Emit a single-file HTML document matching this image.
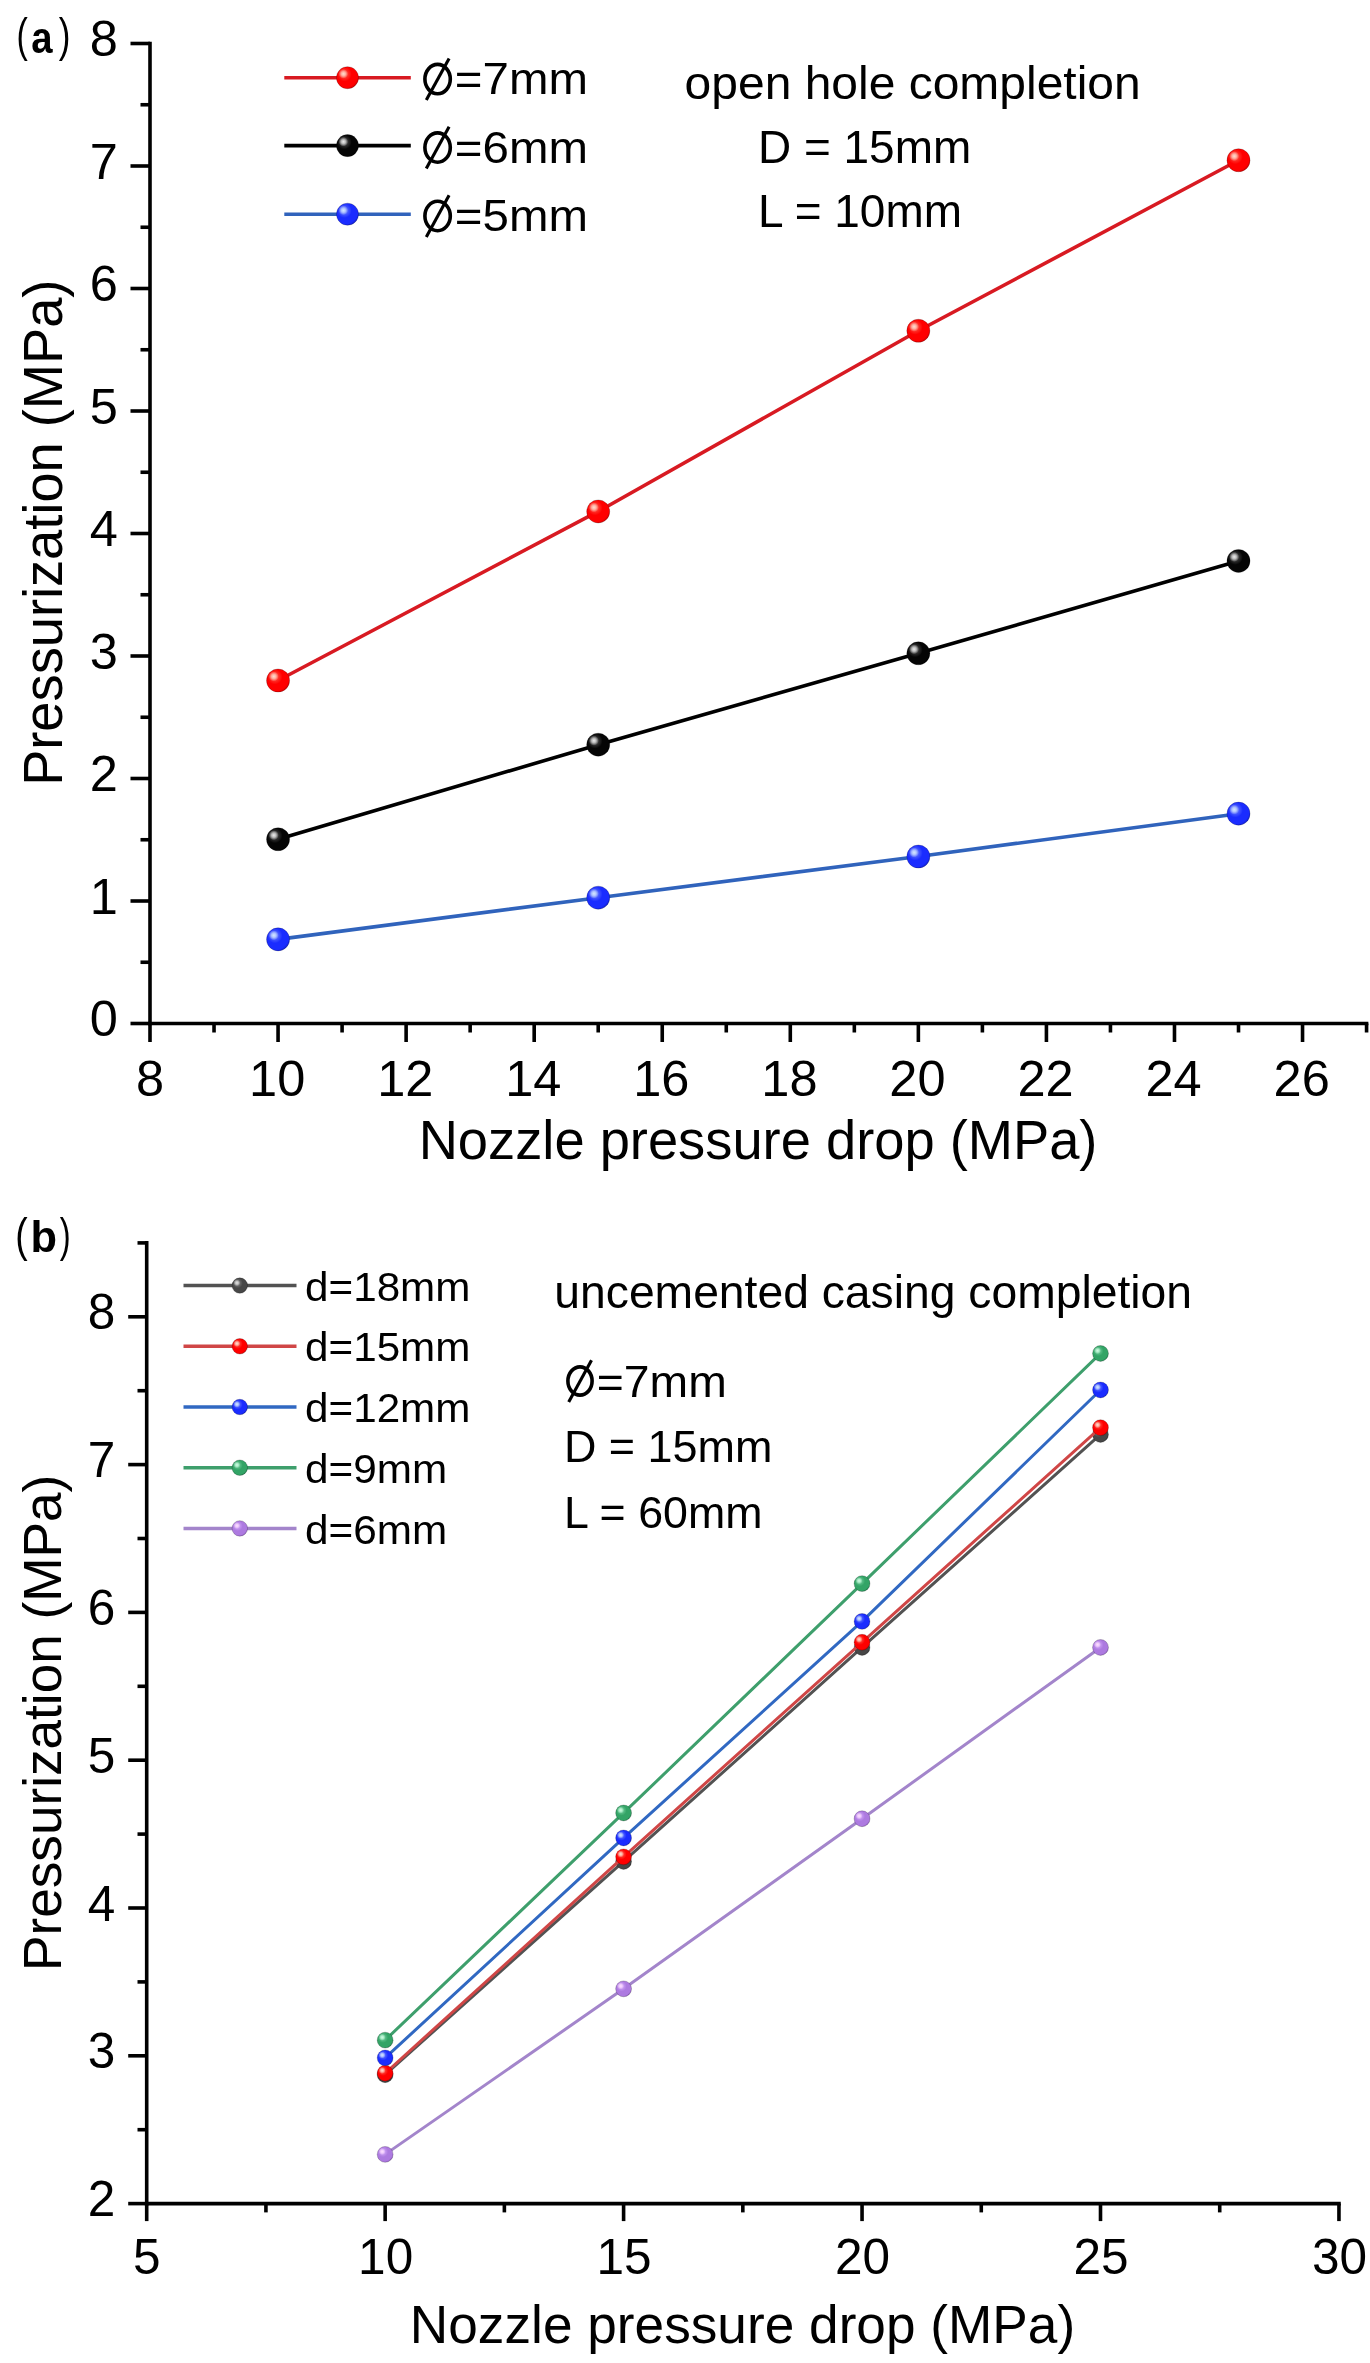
<!DOCTYPE html>
<html><head><meta charset="utf-8"><title>Pressurization vs nozzle pressure drop</title>
<style>
html,body{margin:0;padding:0;background:#fff;}
body{width:1370px;height:2363px;overflow:hidden;}
svg{display:block;will-change:transform;font-family:"Liberation Sans", sans-serif;}
</style></head>
<body>
<svg width="1370" height="2363" viewBox="0 0 1370 2363">
<defs><radialGradient id="gRed" cx="0.36" cy="0.34" r="0.78"><stop offset="0" stop-color="#ff6050"/><stop offset="0.42" stop-color="#ff0000"/><stop offset="0.78" stop-color="#ff0000"/><stop offset="1" stop-color="#b80000"/></radialGradient><radialGradient id="gRedH"><stop offset="0" stop-color="#ffe4d4" stop-opacity="0.95"/><stop offset="0.45" stop-color="#ffe4d4" stop-opacity="0.6649999999999999"/><stop offset="1" stop-color="#ffe4d4" stop-opacity="0"/></radialGradient><radialGradient id="gBlk" cx="0.36" cy="0.34" r="0.78"><stop offset="0" stop-color="#5a5a5a"/><stop offset="0.42" stop-color="#050505"/><stop offset="0.78" stop-color="#050505"/><stop offset="1" stop-color="#000000"/></radialGradient><radialGradient id="gBlkH"><stop offset="0" stop-color="#f4f4f4" stop-opacity="0.95"/><stop offset="0.45" stop-color="#f4f4f4" stop-opacity="0.6649999999999999"/><stop offset="1" stop-color="#f4f4f4" stop-opacity="0"/></radialGradient><radialGradient id="gBlu" cx="0.36" cy="0.34" r="0.78"><stop offset="0" stop-color="#7488ff"/><stop offset="0.42" stop-color="#1a2cff"/><stop offset="0.78" stop-color="#1a2cff"/><stop offset="1" stop-color="#0c18b0"/></radialGradient><radialGradient id="gBluH"><stop offset="0" stop-color="#d8ecff" stop-opacity="0.95"/><stop offset="0.45" stop-color="#d8ecff" stop-opacity="0.6649999999999999"/><stop offset="1" stop-color="#d8ecff" stop-opacity="0"/></radialGradient><radialGradient id="gGry" cx="0.36" cy="0.34" r="0.78"><stop offset="0" stop-color="#8a8a8a"/><stop offset="0.42" stop-color="#474747"/><stop offset="0.78" stop-color="#474747"/><stop offset="1" stop-color="#2a2a2a"/></radialGradient><radialGradient id="gGryH"><stop offset="0" stop-color="#e8e8e8" stop-opacity="0.95"/><stop offset="0.45" stop-color="#e8e8e8" stop-opacity="0.6649999999999999"/><stop offset="1" stop-color="#e8e8e8" stop-opacity="0"/></radialGradient><radialGradient id="gGrn" cx="0.36" cy="0.34" r="0.78"><stop offset="0" stop-color="#7cd4a4"/><stop offset="0.42" stop-color="#33a466"/><stop offset="0.78" stop-color="#33a466"/><stop offset="1" stop-color="#1d7044"/></radialGradient><radialGradient id="gGrnH"><stop offset="0" stop-color="#d0ffe4" stop-opacity="0.95"/><stop offset="0.45" stop-color="#d0ffe4" stop-opacity="0.6649999999999999"/><stop offset="1" stop-color="#d0ffe4" stop-opacity="0"/></radialGradient><radialGradient id="gPur" cx="0.36" cy="0.34" r="0.78"><stop offset="0" stop-color="#dab0ff"/><stop offset="0.42" stop-color="#ad7ae0"/><stop offset="0.78" stop-color="#ad7ae0"/><stop offset="1" stop-color="#8050b0"/></radialGradient><radialGradient id="gPurH"><stop offset="0" stop-color="#ffe0ff" stop-opacity="0.95"/><stop offset="0.45" stop-color="#ffe0ff" stop-opacity="0.6649999999999999"/><stop offset="1" stop-color="#ffe0ff" stop-opacity="0"/></radialGradient></defs>
<rect width="1370" height="2363" fill="#fff"/>
<g fill="#000">
<line x1="150" y1="41.7" x2="150" y2="1025.3" stroke="#000" stroke-width="3.6" stroke-linecap="butt"/>
<line x1="148.2" y1="1023.5" x2="1368.37" y2="1023.5" stroke="#000" stroke-width="3.6" stroke-linecap="butt"/>
<line x1="130.5" y1="1023.5" x2="150" y2="1023.5" stroke="#000" stroke-width="3.6" stroke-linecap="butt"/>
<line x1="140.5" y1="962.25" x2="150" y2="962.25" stroke="#000" stroke-width="3.6" stroke-linecap="butt"/>
<line x1="130.5" y1="901" x2="150" y2="901" stroke="#000" stroke-width="3.6" stroke-linecap="butt"/>
<line x1="140.5" y1="839.75" x2="150" y2="839.75" stroke="#000" stroke-width="3.6" stroke-linecap="butt"/>
<line x1="130.5" y1="778.5" x2="150" y2="778.5" stroke="#000" stroke-width="3.6" stroke-linecap="butt"/>
<line x1="140.5" y1="717.25" x2="150" y2="717.25" stroke="#000" stroke-width="3.6" stroke-linecap="butt"/>
<line x1="130.5" y1="656" x2="150" y2="656" stroke="#000" stroke-width="3.6" stroke-linecap="butt"/>
<line x1="140.5" y1="594.75" x2="150" y2="594.75" stroke="#000" stroke-width="3.6" stroke-linecap="butt"/>
<line x1="130.5" y1="533.5" x2="150" y2="533.5" stroke="#000" stroke-width="3.6" stroke-linecap="butt"/>
<line x1="140.5" y1="472.25" x2="150" y2="472.25" stroke="#000" stroke-width="3.6" stroke-linecap="butt"/>
<line x1="130.5" y1="411" x2="150" y2="411" stroke="#000" stroke-width="3.6" stroke-linecap="butt"/>
<line x1="140.5" y1="349.75" x2="150" y2="349.75" stroke="#000" stroke-width="3.6" stroke-linecap="butt"/>
<line x1="130.5" y1="288.5" x2="150" y2="288.5" stroke="#000" stroke-width="3.6" stroke-linecap="butt"/>
<line x1="140.5" y1="227.25" x2="150" y2="227.25" stroke="#000" stroke-width="3.6" stroke-linecap="butt"/>
<line x1="130.5" y1="166" x2="150" y2="166" stroke="#000" stroke-width="3.6" stroke-linecap="butt"/>
<line x1="140.5" y1="104.75" x2="150" y2="104.75" stroke="#000" stroke-width="3.6" stroke-linecap="butt"/>
<line x1="130.5" y1="43.5" x2="150" y2="43.5" stroke="#000" stroke-width="3.6" stroke-linecap="butt"/>
<line x1="150" y1="1023.5" x2="150" y2="1042" stroke="#000" stroke-width="3.6" stroke-linecap="butt"/>
<line x1="214.03" y1="1023.5" x2="214.03" y2="1032.5" stroke="#000" stroke-width="3.6" stroke-linecap="butt"/>
<line x1="278.06" y1="1023.5" x2="278.06" y2="1042" stroke="#000" stroke-width="3.6" stroke-linecap="butt"/>
<line x1="342.09" y1="1023.5" x2="342.09" y2="1032.5" stroke="#000" stroke-width="3.6" stroke-linecap="butt"/>
<line x1="406.12" y1="1023.5" x2="406.12" y2="1042" stroke="#000" stroke-width="3.6" stroke-linecap="butt"/>
<line x1="470.15" y1="1023.5" x2="470.15" y2="1032.5" stroke="#000" stroke-width="3.6" stroke-linecap="butt"/>
<line x1="534.18" y1="1023.5" x2="534.18" y2="1042" stroke="#000" stroke-width="3.6" stroke-linecap="butt"/>
<line x1="598.21" y1="1023.5" x2="598.21" y2="1032.5" stroke="#000" stroke-width="3.6" stroke-linecap="butt"/>
<line x1="662.24" y1="1023.5" x2="662.24" y2="1042" stroke="#000" stroke-width="3.6" stroke-linecap="butt"/>
<line x1="726.27" y1="1023.5" x2="726.27" y2="1032.5" stroke="#000" stroke-width="3.6" stroke-linecap="butt"/>
<line x1="790.3" y1="1023.5" x2="790.3" y2="1042" stroke="#000" stroke-width="3.6" stroke-linecap="butt"/>
<line x1="854.33" y1="1023.5" x2="854.33" y2="1032.5" stroke="#000" stroke-width="3.6" stroke-linecap="butt"/>
<line x1="918.36" y1="1023.5" x2="918.36" y2="1042" stroke="#000" stroke-width="3.6" stroke-linecap="butt"/>
<line x1="982.39" y1="1023.5" x2="982.39" y2="1032.5" stroke="#000" stroke-width="3.6" stroke-linecap="butt"/>
<line x1="1046.42" y1="1023.5" x2="1046.42" y2="1042" stroke="#000" stroke-width="3.6" stroke-linecap="butt"/>
<line x1="1110.45" y1="1023.5" x2="1110.45" y2="1032.5" stroke="#000" stroke-width="3.6" stroke-linecap="butt"/>
<line x1="1174.48" y1="1023.5" x2="1174.48" y2="1042" stroke="#000" stroke-width="3.6" stroke-linecap="butt"/>
<line x1="1238.51" y1="1023.5" x2="1238.51" y2="1032.5" stroke="#000" stroke-width="3.6" stroke-linecap="butt"/>
<line x1="1302.54" y1="1023.5" x2="1302.54" y2="1042" stroke="#000" stroke-width="3.6" stroke-linecap="butt"/>
<line x1="1366.57" y1="1023.5" x2="1366.57" y2="1032.5" stroke="#000" stroke-width="3.6" stroke-linecap="butt"/>
<g font-size="50.5" text-anchor="end">
<text x="117.8" y="1036.2">0</text>
<text x="117.8" y="913.7">1</text>
<text x="117.8" y="791.2">2</text>
<text x="117.8" y="668.7">3</text>
<text x="117.8" y="546.2">4</text>
<text x="117.8" y="423.7">5</text>
<text x="117.8" y="301.2">6</text>
<text x="117.8" y="178.7">7</text>
<text x="117.8" y="56.2">8</text>
</g>
<g font-size="50.5" text-anchor="middle">
<text x="150" y="1095.7">8</text>
<text x="277.16" y="1095.7">10</text>
<text x="405.22" y="1095.7">12</text>
<text x="533.28" y="1095.7">14</text>
<text x="661.34" y="1095.7">16</text>
<text x="789.4" y="1095.7">18</text>
<text x="917.46" y="1095.7">20</text>
<text x="1045.52" y="1095.7">22</text>
<text x="1173.58" y="1095.7">24</text>
<text x="1301.64" y="1095.7">26</text>
</g>
<text x="418.65" y="1158.7" font-size="55" textLength="678.82" lengthAdjust="spacingAndGlyphs">Nozzle pressure drop (MPa)</text>
<text transform="translate(62.4 785.85) rotate(-90)" x="0" y="0" font-size="54.6" textLength="506.21" lengthAdjust="spacingAndGlyphs">Pressurization (MPa)</text>
<polyline points="278.06,680.5 598.21,511.45 918.36,330.76 1238.51,160.24" fill="none" stroke="#d81a22" stroke-width="3.6" stroke-linejoin="round" stroke-linecap="round"/>
<polyline points="278.06,839.26 598.21,744.69 918.36,653.31 1238.51,560.94" fill="none" stroke="#000000" stroke-width="3.6" stroke-linejoin="round" stroke-linecap="round"/>
<polyline points="278.06,939.34 598.21,897.69 918.36,856.53 1238.51,813.66" fill="none" stroke="#3063bc" stroke-width="3.6" stroke-linejoin="round" stroke-linecap="round"/>
<circle cx="278.06" cy="680.5" r="11.55" fill="url(#gRed)" stroke="#000" stroke-opacity="0.22" stroke-width="0.9"/>
<circle cx="273.74" cy="676.42" r="5.04" fill="url(#gRedH)"/>
<circle cx="598.21" cy="511.45" r="11.55" fill="url(#gRed)" stroke="#000" stroke-opacity="0.22" stroke-width="0.9"/>
<circle cx="593.89" cy="507.37" r="5.04" fill="url(#gRedH)"/>
<circle cx="918.36" cy="330.76" r="11.55" fill="url(#gRed)" stroke="#000" stroke-opacity="0.22" stroke-width="0.9"/>
<circle cx="914.04" cy="326.68" r="5.04" fill="url(#gRedH)"/>
<circle cx="1238.51" cy="160.24" r="11.55" fill="url(#gRed)" stroke="#000" stroke-opacity="0.22" stroke-width="0.9"/>
<circle cx="1234.19" cy="156.16" r="5.04" fill="url(#gRedH)"/>
<circle cx="278.06" cy="839.26" r="11.55" fill="url(#gBlk)" stroke="#000" stroke-opacity="0.22" stroke-width="0.9"/>
<circle cx="273.74" cy="835.18" r="5.04" fill="url(#gBlkH)"/>
<circle cx="598.21" cy="744.69" r="11.55" fill="url(#gBlk)" stroke="#000" stroke-opacity="0.22" stroke-width="0.9"/>
<circle cx="593.89" cy="740.61" r="5.04" fill="url(#gBlkH)"/>
<circle cx="918.36" cy="653.31" r="11.55" fill="url(#gBlk)" stroke="#000" stroke-opacity="0.22" stroke-width="0.9"/>
<circle cx="914.04" cy="649.23" r="5.04" fill="url(#gBlkH)"/>
<circle cx="1238.51" cy="560.94" r="11.55" fill="url(#gBlk)" stroke="#000" stroke-opacity="0.22" stroke-width="0.9"/>
<circle cx="1234.19" cy="556.86" r="5.04" fill="url(#gBlkH)"/>
<circle cx="278.06" cy="939.34" r="11.55" fill="url(#gBlu)" stroke="#000" stroke-opacity="0.22" stroke-width="0.9"/>
<circle cx="273.74" cy="935.26" r="5.04" fill="url(#gBluH)"/>
<circle cx="598.21" cy="897.69" r="11.55" fill="url(#gBlu)" stroke="#000" stroke-opacity="0.22" stroke-width="0.9"/>
<circle cx="593.89" cy="893.61" r="5.04" fill="url(#gBluH)"/>
<circle cx="918.36" cy="856.53" r="11.55" fill="url(#gBlu)" stroke="#000" stroke-opacity="0.22" stroke-width="0.9"/>
<circle cx="914.04" cy="852.45" r="5.04" fill="url(#gBluH)"/>
<circle cx="1238.51" cy="813.66" r="11.55" fill="url(#gBlu)" stroke="#000" stroke-opacity="0.22" stroke-width="0.9"/>
<circle cx="1234.19" cy="809.58" r="5.04" fill="url(#gBluH)"/>
<line x1="284.3" y1="77.7" x2="410.8" y2="77.7" stroke="#d81a22" stroke-width="3.6" stroke-linecap="butt"/>
<circle cx="347.5" cy="77.7" r="11.05" fill="url(#gRed)" stroke="#000" stroke-opacity="0.22" stroke-width="0.9"/>
<circle cx="343.36" cy="73.79" r="4.83" fill="url(#gRedH)"/>
<line x1="284.3" y1="145.6" x2="410.8" y2="145.6" stroke="#000000" stroke-width="3.6" stroke-linecap="butt"/>
<circle cx="347.5" cy="145.6" r="11.05" fill="url(#gBlk)" stroke="#000" stroke-opacity="0.22" stroke-width="0.9"/>
<circle cx="343.36" cy="141.69" r="4.83" fill="url(#gBlkH)"/>
<line x1="284.3" y1="214.2" x2="410.8" y2="214.2" stroke="#3063bc" stroke-width="3.6" stroke-linecap="butt"/>
<circle cx="347.5" cy="214.2" r="11.05" fill="url(#gBlu)" stroke="#000" stroke-opacity="0.22" stroke-width="0.9"/>
<circle cx="343.36" cy="210.29" r="4.83" fill="url(#gBluH)"/>
<ellipse cx="437.6" cy="79.1" rx="12.7" ry="14.7" fill="none" stroke="#000" stroke-width="3.6"/>
<line x1="426.3" y1="100.1" x2="449.1" y2="58.4" stroke="#000" stroke-width="3.1" stroke-linecap="butt"/>
<text x="454.89" y="94.4" font-size="45" textLength="133.04" lengthAdjust="spacingAndGlyphs">=7mm</text>
<ellipse cx="437.6" cy="147.55" rx="12.7" ry="14.7" fill="none" stroke="#000" stroke-width="3.6"/>
<line x1="426.3" y1="168.55" x2="449.1" y2="126.85" stroke="#000" stroke-width="3.1" stroke-linecap="butt"/>
<text x="454.89" y="162.85" font-size="45" textLength="133.04" lengthAdjust="spacingAndGlyphs">=6mm</text>
<ellipse cx="437.6" cy="216" rx="12.7" ry="14.7" fill="none" stroke="#000" stroke-width="3.6"/>
<line x1="426.3" y1="237" x2="449.1" y2="195.3" stroke="#000" stroke-width="3.1" stroke-linecap="butt"/>
<text x="454.89" y="231.3" font-size="45" textLength="133.04" lengthAdjust="spacingAndGlyphs">=5mm</text>
<text x="684.59" y="98.8" font-size="47" textLength="456.13" lengthAdjust="spacingAndGlyphs">open hole completion</text>
<text x="758.03" y="162.8" font-size="45.6" textLength="213.2" lengthAdjust="spacingAndGlyphs">D = 15mm</text>
<text x="758.06" y="226.6" font-size="45.6" textLength="203.94" lengthAdjust="spacingAndGlyphs">L = 10mm</text>
<text x="16.6" y="51.1" font-size="46.7" textLength="11.3" lengthAdjust="spacingAndGlyphs">(</text>
<text x="31.28" y="52.8" font-size="44.7" textLength="21.28" lengthAdjust="spacingAndGlyphs" font-weight="bold">a</text>
<text x="58.79" y="51.1" font-size="46.7" textLength="11.68" lengthAdjust="spacingAndGlyphs">)</text>
<line x1="146.7" y1="1241.1" x2="146.7" y2="2205.4" stroke="#000" stroke-width="3.6" stroke-linecap="butt"/>
<line x1="144.9" y1="2203.6" x2="1340.75" y2="2203.6" stroke="#000" stroke-width="3.6" stroke-linecap="butt"/>
<line x1="128.2" y1="2203.6" x2="146.7" y2="2203.6" stroke="#000" stroke-width="3.6" stroke-linecap="butt"/>
<line x1="137.5" y1="2129.7" x2="146.7" y2="2129.7" stroke="#000" stroke-width="3.6" stroke-linecap="butt"/>
<line x1="128.2" y1="2055.8" x2="146.7" y2="2055.8" stroke="#000" stroke-width="3.6" stroke-linecap="butt"/>
<line x1="137.5" y1="1981.9" x2="146.7" y2="1981.9" stroke="#000" stroke-width="3.6" stroke-linecap="butt"/>
<line x1="128.2" y1="1908" x2="146.7" y2="1908" stroke="#000" stroke-width="3.6" stroke-linecap="butt"/>
<line x1="137.5" y1="1834.1" x2="146.7" y2="1834.1" stroke="#000" stroke-width="3.6" stroke-linecap="butt"/>
<line x1="128.2" y1="1760.2" x2="146.7" y2="1760.2" stroke="#000" stroke-width="3.6" stroke-linecap="butt"/>
<line x1="137.5" y1="1686.3" x2="146.7" y2="1686.3" stroke="#000" stroke-width="3.6" stroke-linecap="butt"/>
<line x1="128.2" y1="1612.4" x2="146.7" y2="1612.4" stroke="#000" stroke-width="3.6" stroke-linecap="butt"/>
<line x1="137.5" y1="1538.5" x2="146.7" y2="1538.5" stroke="#000" stroke-width="3.6" stroke-linecap="butt"/>
<line x1="128.2" y1="1464.6" x2="146.7" y2="1464.6" stroke="#000" stroke-width="3.6" stroke-linecap="butt"/>
<line x1="137.5" y1="1390.7" x2="146.7" y2="1390.7" stroke="#000" stroke-width="3.6" stroke-linecap="butt"/>
<line x1="128.2" y1="1316.8" x2="146.7" y2="1316.8" stroke="#000" stroke-width="3.6" stroke-linecap="butt"/>
<line x1="137.5" y1="1242.9" x2="146.7" y2="1242.9" stroke="#000" stroke-width="3.6" stroke-linecap="butt"/>
<line x1="146.7" y1="2203.6" x2="146.7" y2="2221.1" stroke="#000" stroke-width="3.6" stroke-linecap="butt"/>
<line x1="265.92" y1="2203.6" x2="265.92" y2="2212.4" stroke="#000" stroke-width="3.6" stroke-linecap="butt"/>
<line x1="385.15" y1="2203.6" x2="385.15" y2="2221.1" stroke="#000" stroke-width="3.6" stroke-linecap="butt"/>
<line x1="504.37" y1="2203.6" x2="504.37" y2="2212.4" stroke="#000" stroke-width="3.6" stroke-linecap="butt"/>
<line x1="623.6" y1="2203.6" x2="623.6" y2="2221.1" stroke="#000" stroke-width="3.6" stroke-linecap="butt"/>
<line x1="742.83" y1="2203.6" x2="742.83" y2="2212.4" stroke="#000" stroke-width="3.6" stroke-linecap="butt"/>
<line x1="862.05" y1="2203.6" x2="862.05" y2="2221.1" stroke="#000" stroke-width="3.6" stroke-linecap="butt"/>
<line x1="981.27" y1="2203.6" x2="981.27" y2="2212.4" stroke="#000" stroke-width="3.6" stroke-linecap="butt"/>
<line x1="1100.5" y1="2203.6" x2="1100.5" y2="2221.1" stroke="#000" stroke-width="3.6" stroke-linecap="butt"/>
<line x1="1219.72" y1="2203.6" x2="1219.72" y2="2212.4" stroke="#000" stroke-width="3.6" stroke-linecap="butt"/>
<line x1="1338.95" y1="2203.6" x2="1338.95" y2="2221.1" stroke="#000" stroke-width="3.6" stroke-linecap="butt"/>
<g font-size="49.5" text-anchor="end">
<text x="115.2" y="2216.2">2</text>
<text x="115.2" y="2068.4">3</text>
<text x="115.2" y="1920.6">4</text>
<text x="115.2" y="1772.8">5</text>
<text x="115.2" y="1625">6</text>
<text x="115.2" y="1477.2">7</text>
<text x="115.2" y="1329.4">8</text>
</g>
<g font-size="49.5" text-anchor="middle">
<text x="146.7" y="2273.8">5</text>
<text x="385.65" y="2273.8">10</text>
<text x="624.1" y="2273.8">15</text>
<text x="862.55" y="2273.8">20</text>
<text x="1101" y="2273.8">25</text>
<text x="1339.45" y="2273.8">30</text>
</g>
<text x="409.84" y="2343" font-size="53.5" textLength="665.36" lengthAdjust="spacingAndGlyphs">Nozzle pressure drop (MPa)</text>
<text transform="translate(61 1970.96) rotate(-90)" x="0" y="0" font-size="53" textLength="496.16" lengthAdjust="spacingAndGlyphs">Pressurization (MPa)</text>
<polyline points="385.15,2074.72 623.6,1861.44 862.05,1647.43 1100.5,1434.45" fill="none" stroke="#525252" stroke-width="3" stroke-linejoin="round" stroke-linecap="round"/>
<circle cx="385.15" cy="2074.72" r="7.95" fill="url(#gGry)" stroke="#000" stroke-opacity="0.22" stroke-width="0.9"/>
<circle cx="382.13" cy="2071.86" r="3.53" fill="url(#gGryH)"/>
<circle cx="623.6" cy="1861.44" r="7.95" fill="url(#gGry)" stroke="#000" stroke-opacity="0.22" stroke-width="0.9"/>
<circle cx="620.58" cy="1858.59" r="3.53" fill="url(#gGryH)"/>
<circle cx="862.05" cy="1647.43" r="7.95" fill="url(#gGry)" stroke="#000" stroke-opacity="0.22" stroke-width="0.9"/>
<circle cx="859.03" cy="1644.57" r="3.53" fill="url(#gGryH)"/>
<circle cx="1100.5" cy="1434.45" r="7.95" fill="url(#gGry)" stroke="#000" stroke-opacity="0.22" stroke-width="0.9"/>
<circle cx="1097.48" cy="1431.59" r="3.53" fill="url(#gGryH)"/>
<polyline points="385.15,2073.24 623.6,1856.86 862.05,1642.26 1100.5,1427.65" fill="none" stroke="#d04646" stroke-width="3" stroke-linejoin="round" stroke-linecap="round"/>
<circle cx="385.15" cy="2073.24" r="7.95" fill="url(#gRed)" stroke="#000" stroke-opacity="0.22" stroke-width="0.9"/>
<circle cx="382.13" cy="2070.38" r="3.53" fill="url(#gRedH)"/>
<circle cx="623.6" cy="1856.86" r="7.95" fill="url(#gRed)" stroke="#000" stroke-opacity="0.22" stroke-width="0.9"/>
<circle cx="620.58" cy="1854.01" r="3.53" fill="url(#gRedH)"/>
<circle cx="862.05" cy="1642.26" r="7.95" fill="url(#gRed)" stroke="#000" stroke-opacity="0.22" stroke-width="0.9"/>
<circle cx="859.03" cy="1639.4" r="3.53" fill="url(#gRedH)"/>
<circle cx="1100.5" cy="1427.65" r="7.95" fill="url(#gRed)" stroke="#000" stroke-opacity="0.22" stroke-width="0.9"/>
<circle cx="1097.48" cy="1424.79" r="3.53" fill="url(#gRedH)"/>
<polyline points="385.15,2057.87 623.6,1837.94 862.05,1621.42 1100.5,1389.96" fill="none" stroke="#3068c2" stroke-width="3" stroke-linejoin="round" stroke-linecap="round"/>
<circle cx="385.15" cy="2057.87" r="7.95" fill="url(#gBlu)" stroke="#000" stroke-opacity="0.22" stroke-width="0.9"/>
<circle cx="382.13" cy="2055.01" r="3.53" fill="url(#gBluH)"/>
<circle cx="623.6" cy="1837.94" r="7.95" fill="url(#gBlu)" stroke="#000" stroke-opacity="0.22" stroke-width="0.9"/>
<circle cx="620.58" cy="1835.09" r="3.53" fill="url(#gBluH)"/>
<circle cx="862.05" cy="1621.42" r="7.95" fill="url(#gBlu)" stroke="#000" stroke-opacity="0.22" stroke-width="0.9"/>
<circle cx="859.03" cy="1618.56" r="3.53" fill="url(#gBluH)"/>
<circle cx="1100.5" cy="1389.96" r="7.95" fill="url(#gBlu)" stroke="#000" stroke-opacity="0.22" stroke-width="0.9"/>
<circle cx="1097.48" cy="1387.1" r="3.53" fill="url(#gBluH)"/>
<polyline points="385.15,2040.13 623.6,1812.96 862.05,1583.58 1100.5,1353.45" fill="none" stroke="#3e9f6c" stroke-width="3" stroke-linejoin="round" stroke-linecap="round"/>
<circle cx="385.15" cy="2040.13" r="7.95" fill="url(#gGrn)" stroke="#000" stroke-opacity="0.22" stroke-width="0.9"/>
<circle cx="382.13" cy="2037.28" r="3.53" fill="url(#gGrnH)"/>
<circle cx="623.6" cy="1812.96" r="7.95" fill="url(#gGrn)" stroke="#000" stroke-opacity="0.22" stroke-width="0.9"/>
<circle cx="620.58" cy="1810.11" r="3.53" fill="url(#gGrnH)"/>
<circle cx="862.05" cy="1583.58" r="7.95" fill="url(#gGrn)" stroke="#000" stroke-opacity="0.22" stroke-width="0.9"/>
<circle cx="859.03" cy="1580.72" r="3.53" fill="url(#gGrnH)"/>
<circle cx="1100.5" cy="1353.45" r="7.95" fill="url(#gGrn)" stroke="#000" stroke-opacity="0.22" stroke-width="0.9"/>
<circle cx="1097.48" cy="1350.6" r="3.53" fill="url(#gGrnH)"/>
<polyline points="385.15,2154.38 623.6,1988.85 862.05,1818.73 1100.5,1647.43" fill="none" stroke="#a385cb" stroke-width="3" stroke-linejoin="round" stroke-linecap="round"/>
<circle cx="385.15" cy="2154.38" r="7.95" fill="url(#gPur)" stroke="#000" stroke-opacity="0.22" stroke-width="0.9"/>
<circle cx="382.13" cy="2151.53" r="3.53" fill="url(#gPurH)"/>
<circle cx="623.6" cy="1988.85" r="7.95" fill="url(#gPur)" stroke="#000" stroke-opacity="0.22" stroke-width="0.9"/>
<circle cx="620.58" cy="1985.99" r="3.53" fill="url(#gPurH)"/>
<circle cx="862.05" cy="1818.73" r="7.95" fill="url(#gPur)" stroke="#000" stroke-opacity="0.22" stroke-width="0.9"/>
<circle cx="859.03" cy="1815.87" r="3.53" fill="url(#gPurH)"/>
<circle cx="1100.5" cy="1647.43" r="7.95" fill="url(#gPur)" stroke="#000" stroke-opacity="0.22" stroke-width="0.9"/>
<circle cx="1097.48" cy="1644.57" r="3.53" fill="url(#gPurH)"/>
<line x1="183.5" y1="1285.6" x2="296.5" y2="1285.6" stroke="#525252" stroke-width="3.5" stroke-linecap="butt"/>
<circle cx="239.8" cy="1285.6" r="7.75" fill="url(#gGry)" stroke="#000" stroke-opacity="0.22" stroke-width="0.9"/>
<circle cx="236.85" cy="1282.81" r="3.44" fill="url(#gGryH)"/>
<line x1="183.5" y1="1346.3" x2="296.5" y2="1346.3" stroke="#d04646" stroke-width="3.5" stroke-linecap="butt"/>
<circle cx="239.8" cy="1346.3" r="7.75" fill="url(#gRed)" stroke="#000" stroke-opacity="0.22" stroke-width="0.9"/>
<circle cx="236.85" cy="1343.51" r="3.44" fill="url(#gRedH)"/>
<line x1="183.5" y1="1407" x2="296.5" y2="1407" stroke="#3068c2" stroke-width="3.5" stroke-linecap="butt"/>
<circle cx="239.8" cy="1407" r="7.75" fill="url(#gBlu)" stroke="#000" stroke-opacity="0.22" stroke-width="0.9"/>
<circle cx="236.85" cy="1404.21" r="3.44" fill="url(#gBluH)"/>
<line x1="183.5" y1="1467.7" x2="296.5" y2="1467.7" stroke="#3e9f6c" stroke-width="3.5" stroke-linecap="butt"/>
<circle cx="239.8" cy="1467.7" r="7.75" fill="url(#gGrn)" stroke="#000" stroke-opacity="0.22" stroke-width="0.9"/>
<circle cx="236.85" cy="1464.91" r="3.44" fill="url(#gGrnH)"/>
<line x1="183.5" y1="1528.4" x2="296.5" y2="1528.4" stroke="#a385cb" stroke-width="3.5" stroke-linecap="butt"/>
<circle cx="239.8" cy="1528.4" r="7.75" fill="url(#gPur)" stroke="#000" stroke-opacity="0.22" stroke-width="0.9"/>
<circle cx="236.85" cy="1525.61" r="3.44" fill="url(#gPurH)"/>
<text x="305.13" y="1300.7" font-size="40" textLength="165.25" lengthAdjust="spacingAndGlyphs">d=18mm</text>
<text x="305.13" y="1361.4" font-size="40" textLength="165.25" lengthAdjust="spacingAndGlyphs">d=15mm</text>
<text x="305.13" y="1422.1" font-size="40" textLength="165.25" lengthAdjust="spacingAndGlyphs">d=12mm</text>
<text x="305.12" y="1482.8" font-size="40" textLength="142.16" lengthAdjust="spacingAndGlyphs">d=9mm</text>
<text x="305.12" y="1543.5" font-size="40" textLength="142.16" lengthAdjust="spacingAndGlyphs">d=6mm</text>
<text x="554.3" y="1307.7" font-size="47" textLength="637.71" lengthAdjust="spacingAndGlyphs">uncemented casing completion</text>
<ellipse cx="580" cy="1381" rx="12.1" ry="14.15" fill="none" stroke="#000" stroke-width="3.6"/>
<line x1="568.7" y1="1402" x2="591.5" y2="1360.3" stroke="#000" stroke-width="3.1" stroke-linecap="butt"/>
<text x="596.84" y="1397.1" font-size="43.5" textLength="129.91" lengthAdjust="spacingAndGlyphs">=7mm</text>
<text x="563.91" y="1461.7" font-size="44.5" textLength="208.55" lengthAdjust="spacingAndGlyphs">D = 15mm</text>
<text x="563.96" y="1528" font-size="44.5" textLength="198.46" lengthAdjust="spacingAndGlyphs">L = 60mm</text>
<text x="15.18" y="1251" font-size="46.7" textLength="12.43" lengthAdjust="spacingAndGlyphs">(</text>
<text x="30.44" y="1251.6" font-size="44.7" textLength="26.55" lengthAdjust="spacingAndGlyphs" font-weight="bold">b</text>
<text x="59.71" y="1251" font-size="46.7" textLength="10.93" lengthAdjust="spacingAndGlyphs">)</text>
</g>
</svg>
</body></html>
